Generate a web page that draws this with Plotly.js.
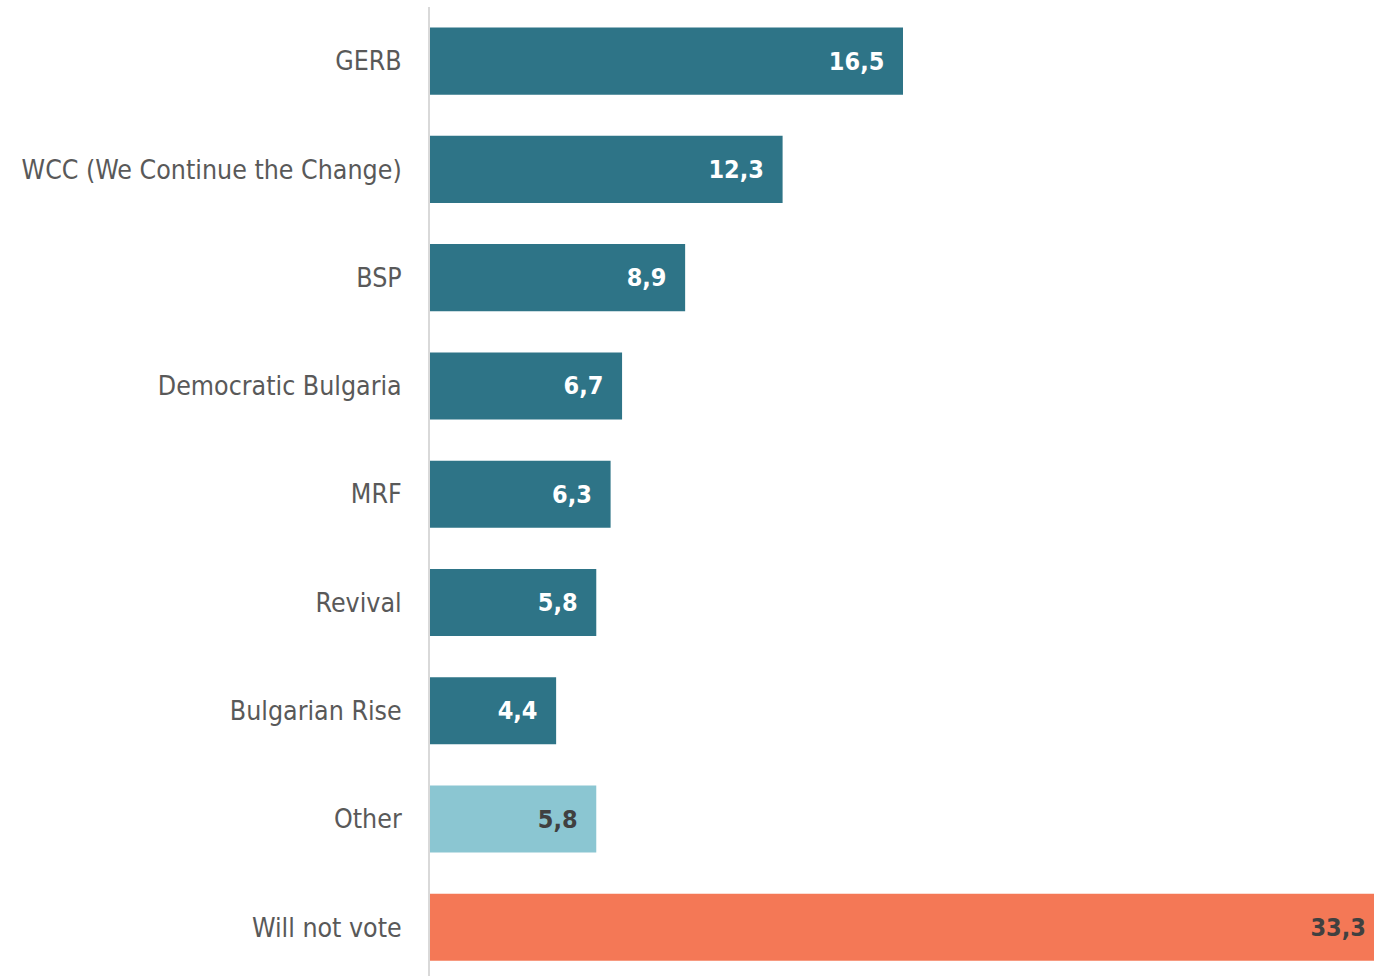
<!DOCTYPE html>
<html>
<head>
<meta charset="utf-8">
<script src="https://cdn.plot.ly/plotly-3.0.1.min.js"></script>
<style>
html,body{margin:0;padding:0;overflow:hidden;background:#fff;}
#chart{width:1374px;height:976px;}
</style>
</head>
<body>
<div id="chart"></div>
<script>
const categories = ["GERB", "WCC (We Continue the Change)", "BSP", "Democratic Bulgaria", "MRF", "Revival", "Bulgarian Rise", "Other", "Will not vote"];
const values = [16.5, 12.3, 8.9, 6.7, 6.3, 5.8, 4.4, 5.8, 33.3];
const barColors = ["#2E7487", "#2E7487", "#2E7487", "#2E7487", "#2E7487", "#2E7487", "#2E7487", "#8BC6D2", "#F47856"];
const labelColors = ["#FFFFFF", "#FFFFFF", "#FFFFFF", "#FFFFFF", "#FFFFFF", "#FFFFFF", "#FFFFFF", "#404040", "#404040"];

const FONT = "'Liberation Sans Narrow', 'DejaVu Sans Condensed', 'Arial Narrow', sans-serif";
const PAD = "\u00a0\u00a0";
const labels = values.map(v => v.toFixed(1).replace('.', ',') + PAD);

const trace = {
  type: 'bar',
  orientation: 'h',
  x: values,
  y: categories,
  marker: {color: barColors, line: {width: 0}},
  text: labels,
  textposition: 'inside',
  insidetextanchor: 'end',
  textangle: 0,
  constraintext: 'none',
  textfont: {family: FONT, size: 25, color: labelColors, weight: 'bold'},
  hoverinfo: 'none',
  cliponaxis: true
};

const layout = {
  width: 1374,
  height: 976,
  margin: {l: 430, r: 0, t: 7, b: 0, pad: 0},
  paper_bgcolor: '#FFFFFF',
  plot_bgcolor: '#FFFFFF',
  showlegend: false,
  bargap: 0.38,
  xaxis: {
    range: [0, 32.93],
    visible: false,
    showgrid: false,
    zeroline: false,
    fixedrange: true
  },
  yaxis: {
    type: 'category',
    range: [8.45, -0.5],
    showline: true,
    linecolor: '#D9D9D9',
    linewidth: 2,
    showgrid: false,
    zeroline: false,
    ticks: '',
    ticklabelstandoff: 21,
    tickfont: {family: FONT, size: 26.5, color: '#595959'},
    fixedrange: true
  }
};

Plotly.newPlot('chart', [trace], layout, {displayModeBar: false, staticPlot: true});
</script>
</body>
</html>
